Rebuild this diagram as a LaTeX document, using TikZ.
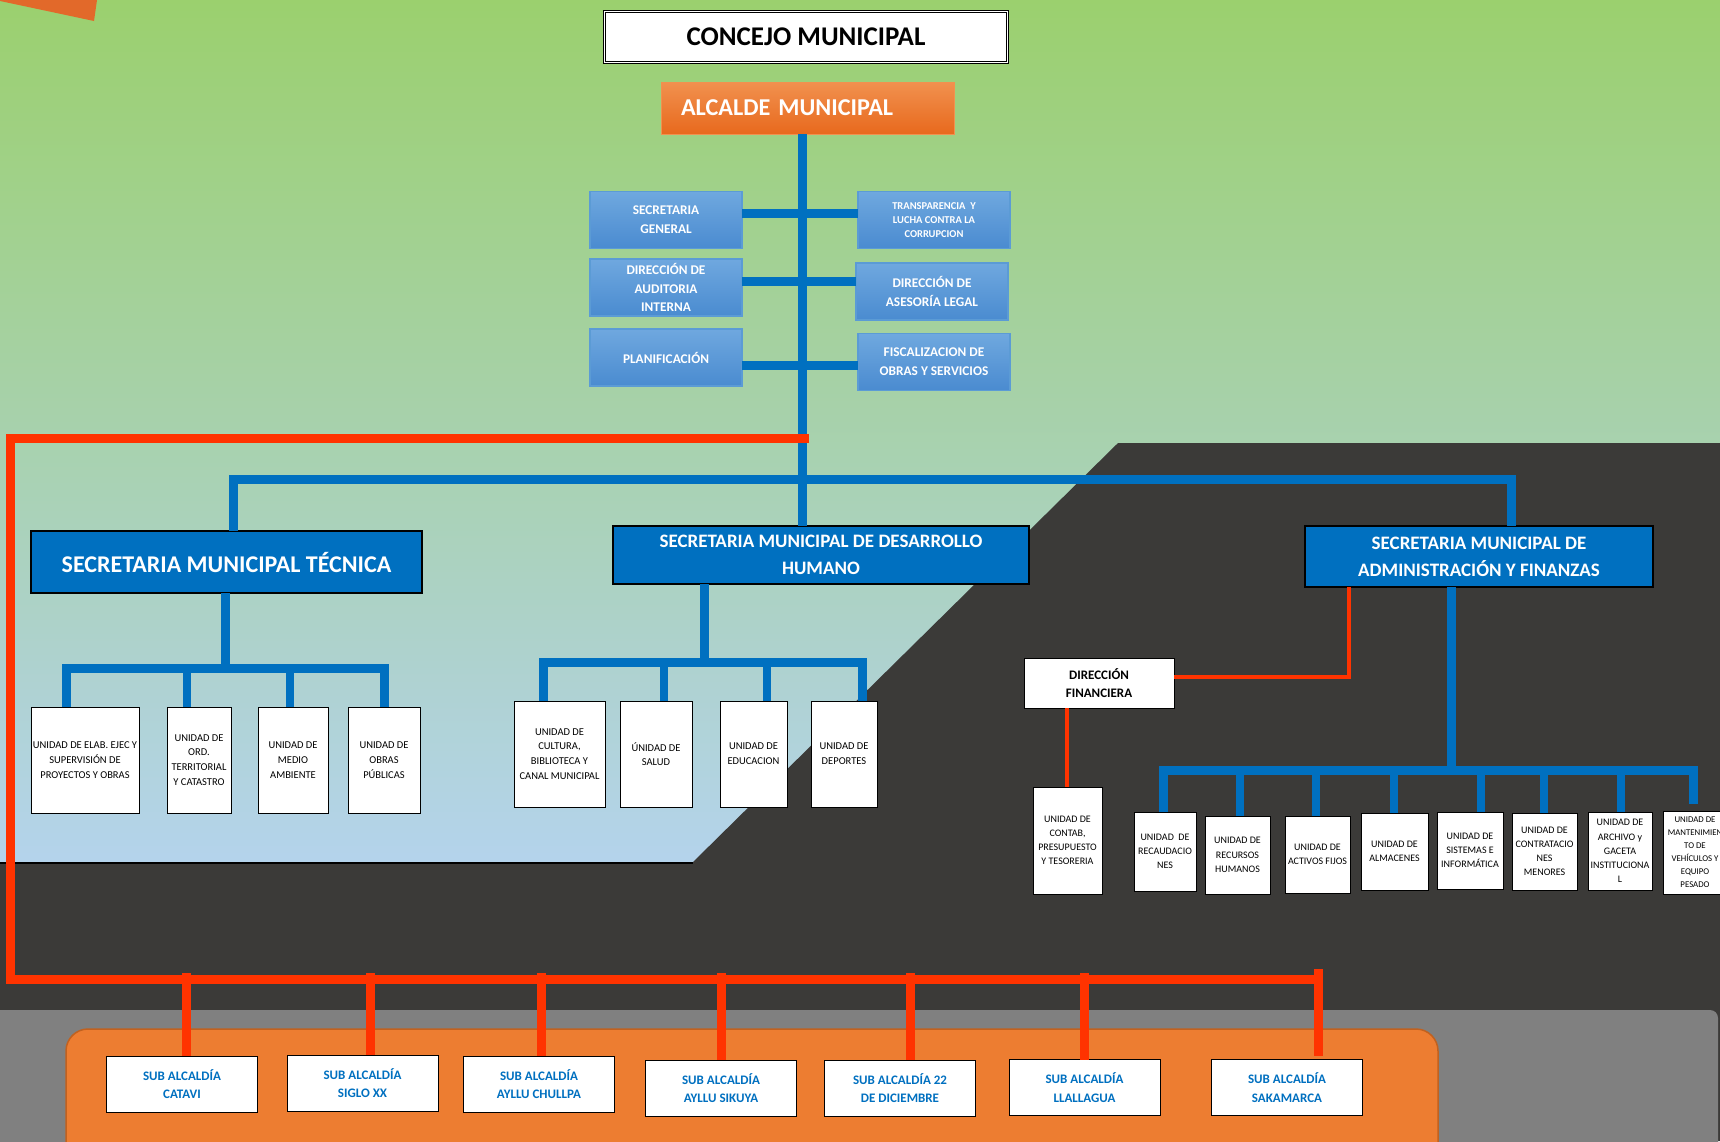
\documentclass[tikz,border=0pt]{standalone}
\usepackage{fontspec}
\setmainfont{Carlito}
\usetikzlibrary{calc}
\definecolor{bgtop}{HTML}{9BD06E}
\definecolor{bgbot}{HTML}{B4D3EC}
\definecolor{darkbg}{HTML}{3B3A38}
\definecolor{grayband}{HTML}{808080}
\definecolor{orangebox}{HTML}{ED7D31}
\definecolor{orangeedge}{HTML}{C1611F}
\definecolor{mblue}{HTML}{0070C0}
\definecolor{redline}{HTML}{FF3300}
\definecolor{stafftop}{HTML}{6FA8DF}
\definecolor{staffbot}{HTML}{4A8BD0}
\definecolor{staffedge}{HTML}{5B9BD5}
\definecolor{alctop}{HTML}{F1914F}
\definecolor{alcbot}{HTML}{E8691D}
\definecolor{fragor}{HTML}{E2692A}
\begin{document}
\begin{tikzpicture}[x=1pt,y=-1pt,
  box/.style={rectangle, inner sep=0pt, outer sep=0pt, align=center},
  staff/.style={box, top color=stafftop, bottom color=staffbot, draw=staffedge, line width=1.2pt, text=white, font=\bfseries\fontsize{13.3}{18.7}\selectfont, minimum width=152, minimum height=57},
  staffs/.style={staff, font=\bfseries\fontsize{10.5}{14}\selectfont},
  sec/.style={box, fill=mblue, draw=black, line width=1.3pt, text=white, font=\bfseries\fontsize{19}{27}\selectfont},
  unit/.style={box, fill=white, draw=black, line width=1pt, text=black, font=\fontsize{10.5}{14.7}\selectfont},
  unitb/.style={unit, font=\fontsize{10}{14.2}\selectfont},
  subal/.style={box, fill=white, draw=black, line width=1pt, text=mblue, font=\bfseries\fontsize{13}{18.5}\selectfont, minimum width=151, minimum height=56},
  bline/.style={draw=mblue, line width=9pt},
  bdrop/.style={draw=mblue, line width=8.5pt},
  rline/.style={draw=redline, line width=9pt},
  rthin/.style={draw=redline, line width=3.5pt},
]
\useasboundingbox (0,0) rectangle (1720,1141);
% background
\shade[top color=bgtop, bottom color=bgbot] (0,0) rectangle (1720,863);
\fill[darkbg] (0,862) -- (693,862) -- (1118,443) -- (1720,443) -- (1720,1141) -- (0,1141) -- cycle;
\draw[black, line width=2pt] (0,863) -- (693,863);
\fill[grayband, rounded corners=8pt] (-20,1010) rectangle (1718,1200);
\draw[fill=orangebox, draw=orangeedge, line width=1.5pt, rounded corners=22pt] (66,1029) rectangle (1438,1190);
\fill[fragor] (0,0) -- (97,0) -- (94,21) -- (0,1) -- cycle;

% top
\node[box, fill=white, draw=black, double=white, double distance=1.6pt, line width=1.1pt, minimum width=403, minimum height=51, font=\bfseries\fontsize{27}{29}\selectfont] (cm) at (806,37) {CONCEJO MUNICIPAL};
\node[box, top color=alctop, bottom color=alcbot, draw=alctop, line width=1pt, minimum width=293, minimum height=52, text width=253, align=left, text=white, font=\bfseries\fontsize{24.2}{26}\selectfont] (alc) at (807.5,108) {ALCALDE MUNICIPAL};

% staff
\node[staff] (sg) at (666,220) {SECRETARIA\\GENERAL};
\node[staff] (dai) at (666,287.5) {DIRECCIÓN DE\\AUDITORIA\\INTERNA};
\node[staff] (pla) at (666,357.5) {PLANIFICACIÓN};
\node[staffs] (tr) at (934,220) {TRANSPARENCIA\ \ Y\\LUCHA CONTRA LA\\CORRUPCION};
\node[staff] (dal) at (932,291.5) {DIRECCIÓN DE\\ASESORÍA LEGAL};
\node[staff] (fis) at (934,362) {FISCALIZACION DE\\OBRAS Y SERVICIOS};

% secretarias
\node[sec, minimum width=391, minimum height=62, font=\bfseries\fontsize{24}{26}\selectfont] (smt) at (226.5,562) {SECRETARIA MUNICIPAL TÉCNICA};
\node[sec, minimum width=416, minimum height=58] (smdh) at (821,555) {SECRETARIA MUNICIPAL DE DESARROLLO\\HUMANO};
\node[sec, minimum width=348, minimum height=61] (smaf) at (1479,556.5) {SECRETARIA MUNICIPAL DE\\ADMINISTRACIÓN Y FINANZAS};

% units SMT
\node[unit, minimum width=108, minimum height=106] (u1) at (85,760) {UNIDAD DE ELAB. EJEC Y\\SUPERVISIÓN DE\\PROYECTOS Y OBRAS};
\node[unit, minimum width=64, minimum height=106] (u2) at (199,760) {UNIDAD DE\\ORD.\\TERRITORIAL\\Y CATASTRO};
\node[unit, minimum width=70, minimum height=106] (u3) at (293,760) {UNIDAD DE\\MEDIO\\AMBIENTE};
\node[unit, minimum width=72, minimum height=106] (u4) at (384,760) {UNIDAD DE\\OBRAS\\PÚBLICAS};

% units SMDH
\node[unit, minimum width=91, minimum height=106] (h1) at (559.5,754) {UNIDAD DE\\CULTURA,\\BIBLIOTECA Y\\CANAL MUNICIPAL};
\node[unit, minimum width=72, minimum height=106] (h2) at (656,754) {ÚNIDAD DE\\SALUD};
\node[unit, minimum width=67, minimum height=106] (h3) at (753.5,754) {UNIDAD DE\\EDUCACION};
\node[unit, minimum width=66, minimum height=106] (h4) at (844,754) {UNIDAD DE\\DEPORTES};

% SMAF
\node[box, fill=white, draw=black, line width=1pt, minimum width=150, minimum height=50, font=\bfseries\fontsize{13}{18}\selectfont] (df) at (1099,683) {DIRECCIÓN\\FINANCIERA};
\node[unitb, minimum width=69, minimum height=107] (ct) at (1067.5,840.5) {UNIDAD DE\\CONTAB,\\PRESUPUESTO\\Y TESORERIA};
\node[unitb, minimum width=62, minimum height=79] (a1) at (1165,851.5) {UNIDAD\ \ DE\\RECAUDACIO\\NES};
\node[unitb, minimum width=65, minimum height=78] (a2) at (1237.5,855) {UNIDAD DE\\RECURSOS\\HUMANOS};
\node[unitb, minimum width=65, minimum height=77] (a3) at (1317.5,854.5) {UNIDAD DE\\ACTIVOS FIJOS};
\node[unitb, minimum width=67, minimum height=77] (a4) at (1394.5,851.5) {UNIDAD DE\\ALMACENES};
\node[unitb, minimum width=66, minimum height=77] (a5) at (1470,850.5) {UNIDAD DE\\SISTEMAS E\\INFORMÁTICA};
\node[unitb, minimum width=65, minimum height=77] (a6) at (1544.5,851.5) {UNIDAD DE\\CONTRATACIO\\NES\\MENORES};
\node[unitb, minimum width=64, minimum height=78] (a7) at (1620,851) {UNIDAD DE\\ARCHIVO y\\GACETA\\INSTITUCIONA\\L};
\node[unitb, minimum width=64, minimum height=83, font=\fontsize{8.8}{13}\selectfont] (a8) at (1695,852.5) {UNIDAD DE\\MANTENIMIEN\\TO DE\\VEHÍCULOS Y\\EQUIPO\\PESADO};

% sub alcaldias
\node[subal] (s1) at (182,1084) {SUB ALCALDÍA\\CATAVI};
\node[subal] (s2) at (362.5,1083) {SUB ALCALDÍA\\SIGLO XX};
\node[subal] (s3) at (539,1084) {SUB ALCALDÍA\\AYLLU CHULLPA};
\node[subal] (s4) at (721,1088) {SUB ALCALDÍA\\AYLLU SIKUYA};
\node[subal] (s5) at (900,1088) {SUB ALCALDÍA 22\\DE DICIEMBRE};
\node[subal] (s6) at (1084.5,1087.5) {SUB ALCALDÍA\\LLALLAGUA};
\node[subal] (s7) at (1287,1087.5) {SUB ALCALDÍA\\SAKAMARCA};

% blue trunk and staff connectors
\coordinate (tk) at (802.5,134);
\draw[bline] (tk) -- (tk |- smdh.north);
\coordinate (j1) at (802.5,213.5);
\coordinate (j2) at (802.5,281.5);
\coordinate (j3) at (802.5,365);
\draw[bline] (sg.east |- j1) -- (tr.west |- j1);
\draw[bline] (dai.east |- j2) -- (dal.west |- j2);
\draw[bline] (pla.east |- j3) -- (fis.west |- j3);

% level 2 bus
\coordinate (b2l) at (233,479);
\coordinate (b2r) at (1511,479);
\draw[bline, line join=miter] (smt.north -| b2l) -- (b2l) -- (b2r) -- (smaf.north -| b2r);

% SMT children
\coordinate (t0) at (225,668);
\coordinate (t1) at (66,668);
\coordinate (t2) at (187,668);
\coordinate (t3) at (290,668);
\coordinate (t4) at (384,668);
\draw[bline] (smt.south -| t0) -- (t0);
\draw[bline, line join=miter] (t1 |- u1.north) -- (t1) -- (t4) -- (t4 |- u4.north);
\draw[bdrop] (t2) -- (t2 |- u2.north);
\draw[bdrop] (t3) -- (t3 |- u3.north);

% SMDH children
\coordinate (m0) at (704,662);
\coordinate (m1) at (543,662);
\coordinate (m2) at (664,662);
\coordinate (m3) at (767,662);
\coordinate (m4) at (862,662);
\draw[bline] (smdh.south -| m0) -- (m0);
\draw[bline, line join=miter] (m1 |- h1.north) -- (m1) -- (m4) -- (m4 |- h4.north);
\draw[bdrop] (m2) -- (m2 |- h2.north);
\draw[bdrop] (m3) -- (m3 |- h3.north);

% SMAF children
\coordinate (f0) at (1451,770);
\coordinate (f1) at (1163,770);
\coordinate (f2) at (1240,770);
\coordinate (f3) at (1316,770);
\coordinate (f4) at (1394,770);
\coordinate (f5) at (1481,770);
\coordinate (f6) at (1544,770);
\coordinate (f7) at (1621,770);
\coordinate (f8) at (1693,770);
\draw[bline] (smaf.south -| f0) -- (f0);
\draw[bline, line join=miter] (f1 |- a1.north) -- (f1) -- (f8) -- ($(f8)+(0,34)$);
\draw[bdrop] (f2) -- (f2 |- a2.north);
\draw[bdrop] (f3) -- (f3 |- a3.north);
\draw[bdrop] (f4) -- (f4 |- a4.north);
\draw[bdrop] (f5) -- (f5 |- a5.north);
\draw[bdrop] (f6) -- (f6 |- a6.north);
\draw[bdrop] (f7) -- (f7 |- a7.north);

% red lines
\coordinate (rc) at (1349,677);
\draw[rthin, line join=miter] (smaf.south -| rc) -- (rc) -- (df.east |- rc);
\coordinate (rd) at (1067,708);
\draw[rthin] (df.south -| rd) -- (ct.north -| rd);

\coordinate (rt) at (809,438);
\coordinate (rl) at (10.5,438);
\coordinate (rbl) at (10.5,979.5);
\coordinate (rbr) at (1318,979.5);
\draw[rline, line join=miter] (rt) -- (rl) -- (rbl) -- (rbr);
\coordinate (d1) at (186.5,973);
\coordinate (d2) at (370.5,973);
\coordinate (d3) at (541.5,973);
\coordinate (d4) at (721.5,973);
\coordinate (d5) at (910,973);
\coordinate (d6) at (1084.5,973);
\coordinate (d7) at (1318,969);
\draw[rline] (d1) -- (d1 |- s1.north);
\draw[rline] (d2) -- (d2 |- s2.north);
\draw[rline] (d3) -- (d3 |- s3.north);
\draw[rline] (d4) -- (d4 |- s4.north);
\draw[rline] (d5) -- (d5 |- s5.north);
\draw[rline] (d6) -- (d6 |- s6.north);
\draw[rline] (d7) -- ($(d7 |- s7.north)+(0,-4)$);
\end{tikzpicture}
\end{document}
